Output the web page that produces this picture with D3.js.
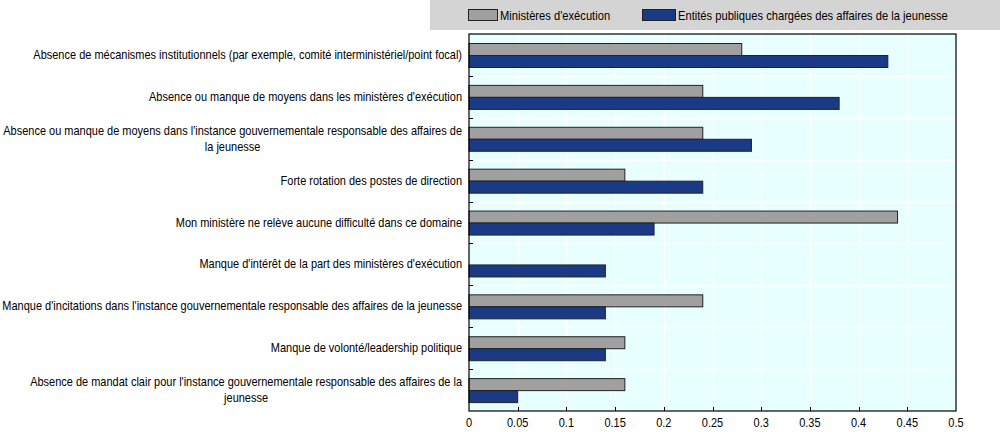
<!DOCTYPE html>
<html lang="fr">
<head>
<meta charset="utf-8">
<title>Difficultés</title>
<style>
  body { margin: 0; background: #fff; }
  text { font-family: "Liberation Sans", Arial, sans-serif; font-size: 12px; fill: #000; }
  .legend text { font-size: 12.2px; }
</style>
</head>
<body>
<svg id="chart" width="1000" height="432"></svg>
<script src="https://d3js.org/d3.v7.min.js"></script>
<script>
  const categories = [
    ["Absence de mécanismes institutionnels (par exemple, comité interministériel/point focal)"],
    ["Absence ou manque de moyens dans les ministères d'exécution"],
    ["Absence ou manque de moyens dans l'instance gouvernementale responsable des affaires de", "la jeunesse"],
    ["Forte rotation des postes de direction"],
    ["Mon ministère ne relève aucune difficulté dans ce domaine"],
    ["Manque d'intérêt de la part des ministères d'exécution"],
    ["Manque d'incitations dans l'instance gouvernementale responsable des affaires de la jeunesse"],
    ["Manque de volonté/leadership politique"],
    ["Absence de mandat clair pour l'instance gouvernementale responsable des affaires de la", "jeunesse"]
  ];
  const ministeres = [0.28, 0.24, 0.24, 0.16, 0.44, 0, 0.24, 0.16, 0.16];
  const entites = [0.43, 0.38, 0.29, 0.24, 0.19, 0.14, 0.14, 0.14, 0.05];
  const seriesNames = ["Ministères d'exécution", "Entités publiques chargées des affaires de la jeunesse"];
  const xTicks = [0, 0.05, 0.1, 0.15, 0.2, 0.25, 0.3, 0.35, 0.4, 0.45, 0.5];

  const colors = ["#a0a0a0", "#1a3a85"];
  const svg = d3.select("#chart");
  const pLeft = 469, pRight = 956, pTop = 34, pBottom = 411;

  const x = d3.scaleLinear().domain([0, 0.5]).range([pLeft, pRight]);
  const y = d3.scaleBand().domain(d3.range(categories.length)).range([pTop, pBottom]);
  const inner = d3.scaleBand().domain([0, 1]).range([9, 33]);

  // the source uses a narrow face: squeeze the text horizontally to match
  const probe = svg.append("text").text(categories[0][0]);
  const squeeze = 429 / probe.node().getComputedTextLength();
  probe.remove();

  function label(parent, px, py, str, anchor) {
    return parent.append("text")
      .attr("transform", `translate(${px},${py}) scale(${squeeze},1)`)
      .attr("text-anchor", anchor || "start")
      .text(str);
  }

  // legend band
  const legend = svg.append("g").attr("class", "legend");
  legend.append("rect").attr("x", 430).attr("y", 0).attr("width", 570).attr("height", 30).attr("fill", "#d4d4d4");
  const legendX = [[468, 30], [642, 34]];
  seriesNames.forEach((name, i) => {
    const [lx, lw] = legendX[i];
    legend.append("rect").attr("x", lx + 0.5).attr("y", 9.5).attr("width", lw - 1).attr("height", 11)
      .attr("fill", colors[i]).attr("stroke", "#222").attr("stroke-width", 1);
    label(legend, lx + lw + 2, 19.5, name);
  });

  // plot background
  svg.append("rect").attr("x", pLeft).attr("y", pTop).attr("width", pRight - pLeft).attr("height", pBottom - pTop)
    .attr("fill", "#e8ffff");

  // grid
  svg.append("g").selectAll("line").data(xTicks.slice(1, -1)).join("line")
    .attr("x1", d => Math.round(x(d)) + 0.5).attr("x2", d => Math.round(x(d)) + 0.5)
    .attr("y1", pTop).attr("y2", pBottom).attr("stroke", "#fff").attr("stroke-width", 1.5);
  svg.append("g").selectAll("line").data(d3.range(1, categories.length)).join("line")
    .attr("x1", pLeft).attr("x2", pRight)
    .attr("y1", d => Math.round(y(d)) + 0.5).attr("y2", d => Math.round(y(d)) + 0.5)
    .attr("stroke", "#fff").attr("stroke-width", 1.5);

  // bars
  const rows = categories.map((c, i) => ({ i, vals: [ministeres[i], entites[i]] }));
  const rowG = svg.append("g").selectAll("g").data(rows).join("g")
    .attr("transform", d => `translate(0,${y(d.i)})`);
  rowG.selectAll("rect").data(d => d.vals.map((v, k) => ({ v, k })).filter(e => e.v > 0)).join("rect")
    .attr("x", x(0)).attr("y", e => inner(e.k) + 0.5)
    .attr("width", e => x(e.v) - x(0)).attr("height", inner.bandwidth())
    .attr("fill", e => colors[e.k]).attr("stroke", "#222").attr("stroke-width", 1);

  // frame
  svg.append("rect").attr("x", pLeft).attr("y", pTop).attr("width", pRight - pLeft).attr("height", pBottom - pTop)
    .attr("fill", "none").attr("stroke", "#000").attr("stroke-width", 1.2);

  // inward ticks
  svg.append("g").selectAll("line").data(d3.range(1, categories.length)).join("line")
    .attr("x1", pLeft).attr("x2", pLeft + 4)
    .attr("y1", d => Math.round(y(d)) + 0.5).attr("y2", d => Math.round(y(d)) + 0.5)
    .attr("stroke", "#000");
  svg.append("g").selectAll("line").data(xTicks.slice(1, -1)).join("line")
    .attr("x1", d => Math.round(x(d)) + 0.5).attr("x2", d => Math.round(x(d)) + 0.5)
    .attr("y1", pBottom).attr("y2", pBottom - 4).attr("stroke", "#000");

  // x tick labels
  xTicks.forEach(t => label(svg, x(t), 427, d3.format("")(t), "middle"));

  // category labels
  const labelRight = 462;
  categories.forEach((lines, i) => {
    const cy = y(i) + y.bandwidth() / 2;
    const lh = 16;
    const y0 = cy - (lines.length - 1) * lh / 2 + 4;
    const first = label(svg, labelRight, y0, lines[0], "end");
    if (lines.length > 1) {
      const w = first.node().getComputedTextLength() * squeeze;
      label(svg, labelRight - w / 2, y0 + lh, lines[1], "middle");
    }
  });
</script>
</body>
</html>
